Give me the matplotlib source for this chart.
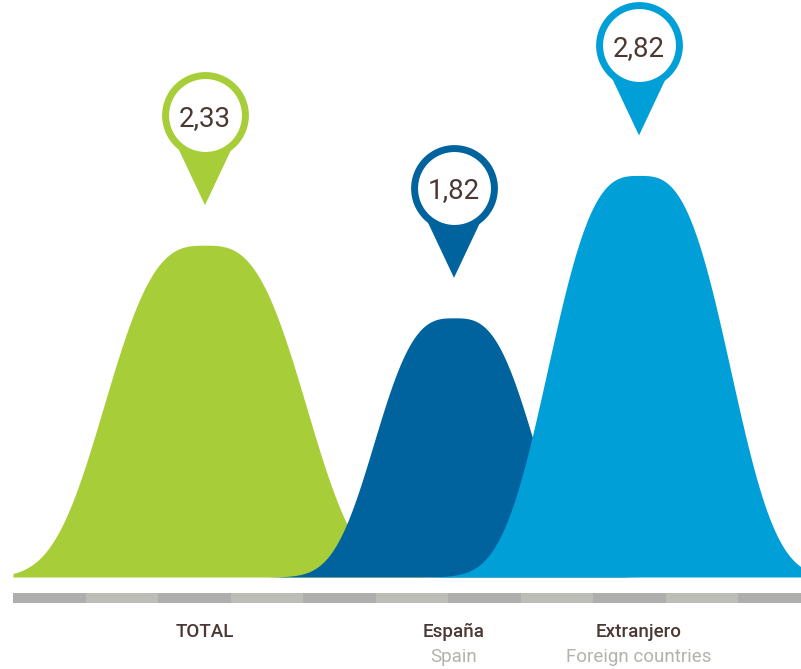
import numpy as np
import matplotlib.pyplot as plt
from matplotlib.patches import Polygon, Rectangle

# data
categories = ["TOTAL", "España", "Extranjero"]
subtitles = ["", "Spain", "Foreign countries"]
values = [2.33, 1.82, 2.82]
value_labels = ["2,33", "1,82", "2,82"]

# layout (pixel units on x, value units on y)
centers = [205, 454, 639]
widths = [116, 92, 105]
colors = ["#a7ce39", "#00639e", "#009fd7"]
text_brown = "#4b3833"
sub_gray = "#b3b3ad"

W, H = 801, 669
base_px = 577            # baseline row in the picture
k = 142.4                # px per value unit
px = 1.0 / k

fig = plt.figure(figsize=(W / 100, H / 100), dpi=100)
ax = fig.add_axes([0, 0, 1, 1])
ax.set_xlim(0, W)
ax.set_ylim(-(H - base_px) * px, base_px * px)
ax.axis("off")


def ypx(row):
    # picture row (from top) -> value units
    return (base_px - row) * px


# bell shapes
for i, v in enumerate(values):
    c, a = centers[i], widths[i]
    x = np.linspace(max(c - 2 * a, 13), min(c + 2 * a, W), 400)
    y = v * np.exp(-np.abs((x - c) / a) ** 3)
    ax.fill_between(x, 0, y, color=colors[i], lw=0, zorder=2 + i)

# pins
for i, v in enumerate(values):
    c = centers[i]
    cy = v + 130 * px
    tip = v + 40 * px
    tri = Polygon([[c - 33, cy - 20 * px], [c + 33, cy - 20 * px], [c, tip]],
                  closed=True, color=colors[i], lw=0, zorder=10)
    ax.add_patch(tri)
    ax.plot([c], [cy], marker="o", ms=57.5, mfc="white", mec=colors[i],
            mew=5.0, zorder=11)
    ax.text(c, cy, value_labels[i], ha="center", va="center_baseline",
            fontsize=20, family="Roboto", color=text_brown, zorder=12)

# striped base bar
edges = np.arange(13, W, 72.5)
for j, x0 in enumerate(edges):
    x1 = min(x0 + 72.5, W)
    ax.add_patch(Rectangle((x0, ypx(603)), x1 - x0, ypx(593) - ypx(603),
                           color="#aeaeac" if j % 2 == 0 else "#bcbdb7",
                           lw=0, zorder=1))

# labels
for i, name in enumerate(categories):
    ax.text(centers[i], ypx(637), name, ha="center", va="baseline",
            fontsize=13.5, family="Roboto", fontweight="medium",
            color=text_brown)
    if subtitles[i]:
        ax.text(centers[i], ypx(662), subtitles[i], ha="center", va="baseline",
                fontsize=13.5, family="Roboto", color=sub_gray)

fig.savefig("out.png", dpi=100)
